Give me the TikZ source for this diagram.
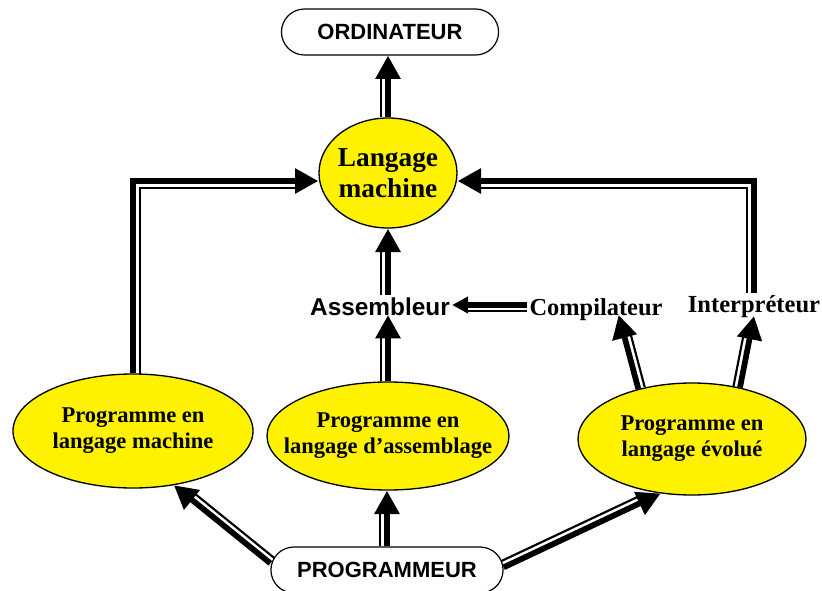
\documentclass[tikz,border=0pt]{standalone}
\usepackage{fontspec}
\setmainfont{Liberation Serif}
\setsansfont{Liberation Sans}
\usetikzlibrary{
  arrows.meta,
  backgrounds,
  shapes.geometric,
  shapes.misc
}
\tikzset{
  every node/.style={font=\bfseries, text=black},
  blob/.style={
    ellipse,
    draw=black,
    line width=1pt,
    fill=yellow,
    inner xsep=-15pt,
    inner ysep=0pt,
    align=center,
    font=\bfseries\fontsize{16.9}{19.5}\selectfont
  },
  tag/.style={
    rounded rectangle,
    draw=black,
    line width=0.9pt,
    fill=white,
    minimum height=34.5pt,
    font=\sffamily\bfseries\fontsize{16.5}{19}\selectfont
  },
  word/.style={inner sep=1.5pt},
  pipe/.style={
    line width=4.3pt,
    -{Triangle[length=17.5pt,width=18pt]}
  },
  rail/.style={
    line width=1.6pt,
    shorten >=16pt
  }
}

\begin{document}
\begin{tikzpicture}[x=0.75pt, y=-0.75pt]
  \useasboundingbox (0,0) rectangle (822,590);

  \node[tag, minimum width=169.5pt] (ord) at (390,32) {ORDINATEUR};
  \node[blob, minimum width=103.5pt, minimum height=82.5pt,
        font=\bfseries\fontsize{20.5}{23.3}\selectfont] (lm) at (388,173) {Langage\\machine};

  \node[word, anchor=base, font=\sffamily\bfseries\fontsize{18.3}{21}\selectfont] (asm) at (380,315) {Assembleur};
  \node[word, anchor=base, font=\bfseries\fontsize{18.3}{21}\selectfont] (comp) at (596,315) {Compilateur};
  \node[word, anchor=base, font=\bfseries\fontsize{18.4}{21}\selectfont] (inter) at (754,312) {Interpréteur};

  \node[blob, minimum width=180pt, minimum height=85.5pt] (pm) at (133,431) {Programme en\\langage machine};
  \node[blob, minimum width=181.5pt, minimum height=81pt] (pa) at (388,436) {Programme en\\langage d’assemblage};
  \node[blob, minimum width=171pt, minimum height=84pt] (ev) at (692,439) {Programme en\\langage évolué};

  \node[tag, minimum width=180.75pt] (prog) at (387,570) {PROGRAMMEUR};

  \begin{scope}[on background layer]
    % towards the computer
    \draw[pipe] (lm.north) -- (lm.north |- ord.south);
    \draw[rail, transform canvas={shift={(-5pt,0pt)}}] (lm.north) -- (lm.north |- ord.south);

    % machine language, directly
    \draw[pipe] (pm.north) |- ([yshift=-6pt]lm.west);
    \draw[rail, transform canvas={shift={(5pt,-5pt)}}] (pm.north) |- ([yshift=-6pt]lm.west);

    % interpreter
    \draw[pipe] (inter.north) |- ([yshift=-6pt]lm.east);
    \draw[rail, shorten <=5pt, transform canvas={shift={(-5pt,-5pt)}}] (inter.north) |- ([yshift=-6pt]lm.east);

    % assembler
    \draw[pipe] (lm.south |- asm.north) -- (lm.south);
    \draw[rail, transform canvas={shift={(-5pt,0pt)}}] (lm.south |- asm.north) -- (lm.south);
    \draw[pipe] (pa.north) -- (pa.north |- asm.base);
    \draw[rail, transform canvas={shift={(-5pt,0pt)}}] (pa.north) -- (pa.north |- asm.base);

    % compiler
    \draw[pipe, -{Triangle[length=12pt,width=12pt]}] ([yshift=7.5pt]comp.base west) -- ([yshift=7.5pt]asm.base east);
    \draw[rail, shorten >=10pt, transform canvas={shift={(0pt,-4.5pt)}}] ([yshift=7.5pt]comp.base west) -- ([yshift=7.5pt]asm.base east);
    \draw[pipe] (ev.137) -- ([xshift=17pt]comp.base);
    \draw[rail, transform canvas={shift={(4.8pt,1.4pt)}}] (ev.137) -- ([xshift=17pt]comp.base);
    \draw[pipe] (ev.47) -- ([yshift=-3pt]inter.base);
    \draw[rail, transform canvas={shift={(-4.9pt,0.9pt)}}] (ev.47) -- ([yshift=-3pt]inter.base);

    % the programmer
    \draw[pipe] ([yshift=5pt]prog.west) -- (pm.-53);
    \draw[rail, transform canvas={shift={(3.1pt,3.9pt)}}] ([yshift=5pt]prog.west) -- (pm.-53);
    \draw[pipe] (prog.north) -- (prog.north |- pa.south);
    \draw[rail, transform canvas={shift={(-5pt,0pt)}}] (prog.north) -- (prog.north |- pa.south);
    \draw[pipe] ([yshift=2pt]prog.east) -- (ev.-120);
    \draw[rail, transform canvas={shift={(-2.2pt,4.5pt)}}] ([yshift=2pt]prog.east) -- (ev.-120);
  \end{scope}
\end{tikzpicture}
\end{document}
